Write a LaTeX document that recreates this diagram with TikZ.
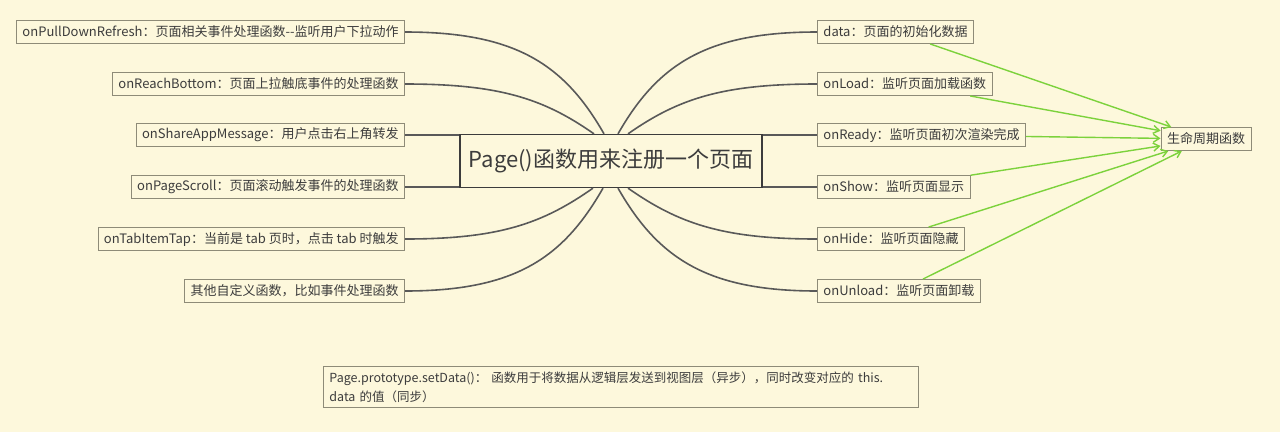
\documentclass[tikz,border=0pt]{standalone}
\usepackage{fontspec}
\setmainfont{Noto Sans CJK SC}
\usetikzlibrary{arrows.meta,positioning,calc}
\definecolor{paper}{HTML}{FDF8DC}
\definecolor{ink}{HTML}{3C3C3C}
\definecolor{frame}{HTML}{8E8B78}
\definecolor{lifegreen}{HTML}{7CD23C}
\tikzset{
  mind/.style={font=\fontsize{13}{15}\selectfont, text=ink, line width=1pt},
  leaf/.style={draw=frame, fill=paper, line width=.9pt, minimum height=23pt,
    inner xsep=6pt, inner ysep=0pt},
  hub/.style={draw=ink, fill=paper, line width=1.3pt, minimum width=302pt,
    minimum height=53pt, font=\fontsize{22}{26}\selectfont},
  branch/.style={draw=ink!85, line width=1.6pt},
  lifeflow/.style={-{Straight Barb[length=6pt,width=8pt]}, draw=lifegreen,
    line width=1.4pt},
  note/.style={leaf, align=left, text width=583pt, inner ysep=5pt,
    font=\fontsize{12.5}{19}\selectfont},
}

\begin{document}
\begin{tikzpicture}[mind,x=1pt,y=-1pt]
  % Page of 1280 x 432, y grows downwards.
  \fill[paper] (0,0) rectangle (1280,432);
  \useasboundingbox (0,0) rectangle (1280,432);

  % ---------------- centre ----------------
  \node[hub] (page) at (611,161) {Page()函数用来注册一个页面};
  \coordinate (nl2) at ([xshift=-17pt]page.north);
  \coordinate (nl1) at ([xshift=-7pt]page.north);
  \coordinate (nr1) at ([xshift=7pt]page.north);
  \coordinate (nr2) at ([xshift=17pt]page.north);
  \coordinate (sl1) at ([xshift=-18pt]page.south);
  \coordinate (sl2) at ([xshift=-8pt]page.south);
  \coordinate (sr2) at ([xshift=7pt]page.south);
  \coordinate (sr1) at ([xshift=17pt]page.south);

  % ---------------- left side ----------------
  \node[leaf,anchor=east] (pull) at (405,32)
    {onPullDownRefresh：页面相关事件处理函数-{}-监听用户下拉动作};
  \node[leaf,anchor=east] (reach) at (405,84)
    {onReachBottom：页面上拉触底事件的处理函数};
  \node[leaf,anchor=east] (share) at (405,135)
    {onShareAppMessage：用户点击右上角转发};
  \node[leaf,anchor=east] (scroll) at (405,187)
    {onPageScroll：页面滚动触发事件的处理函数};
  \node[leaf,anchor=east] (tab) at (405,239)
    {onTabItemTap：当前是 tab 页时，点击 tab 时触发};
  \node[leaf,anchor=east] (custom) at (405,291)
    {其他自定义函数，比如事件处理函数};

  \draw[branch] (pull.east) .. controls +(110,0) and +(-40,-70) .. (nl1);
  \draw[branch] (reach.east) .. controls +(95,0) and +(-50,-35) .. (nl2);
  \draw[branch] (share.east) -- (share.east -| page.west);
  \draw[branch] (scroll.east) -- (scroll.east -| page.west);
  \draw[branch] (tab.east) .. controls +(95,0) and +(-50,35) .. (sl1);
  \draw[branch] (custom.east) .. controls +(110,0) and +(-40,70) .. (sl2);

  % ---------------- right side ----------------
  \node[leaf,anchor=west] (data) at (817,32) {data：页面的初始化数据};
  \node[leaf,anchor=west] (load) at (817,84) {onLoad：监听页面加载函数};
  \node[leaf,anchor=west] (ready) at (817,135) {onReady：监听页面初次渲染完成};
  \node[leaf,anchor=west] (show) at (817,187) {onShow：监听页面显示};
  \node[leaf,anchor=west] (hide) at (817,239) {onHide：监听页面隐藏};
  \node[leaf,anchor=west] (unload) at (817,291) {onUnload：监听页面卸载};

  \draw[branch] (data.west) .. controls +(-110,0) and +(40,-70) .. (nr1);
  \draw[branch] (load.west) .. controls +(-95,0) and +(50,-35) .. (nr2);
  \draw[branch] (ready.west) -- (ready.west -| page.east);
  \draw[branch] (show.west) -- (show.west -| page.east);
  \draw[branch] (hide.west) .. controls +(-95,0) and +(50,35) .. (sr1);
  \draw[branch] (unload.west) .. controls +(-110,0) and +(40,70) .. (sr2);

  % lifecycle group
  \node[leaf] (life) at (1206,139) {生命周期函数};
  \foreach \hook in {data,load,ready,show,hide,unload}
    \draw[lifeflow] (\hook) -- (life);

  % ---------------- note ----------------
  \node[note,anchor=north west] (setdata) at (323,366)
    {Page.prototype.setData()： 函数用于将数据从逻辑层发送到视图层（异步），同时改变对应的 this.\\
     data 的值（同步）};
\end{tikzpicture}
\end{document}
